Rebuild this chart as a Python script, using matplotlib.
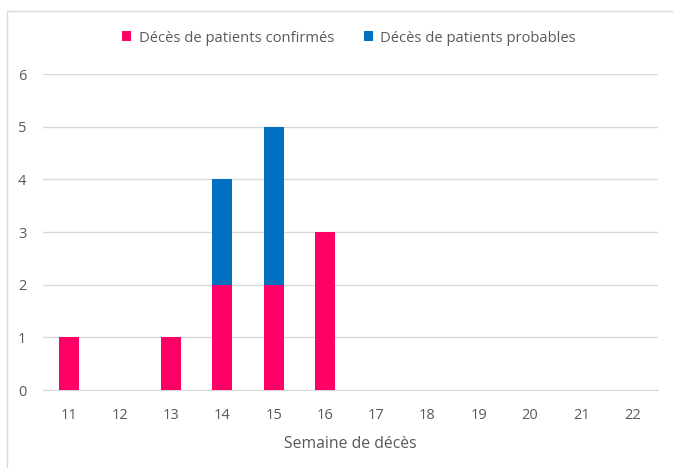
import numpy as np
import matplotlib
matplotlib.use("Agg")
from matplotlib import pyplot as plt
from matplotlib.patches import Rectangle

semaines = ["11", "12", "13", "14", "15", "16", "17", "18", "19", "20", "21", "22"]
confirmes = [1, 0, 1, 2, 2, 3, 0, 0, 0, 0, 0, 0]
probables = [0, 0, 0, 2, 3, 0, 0, 0, 0, 0, 0, 0]

plt.rcParams['font.family'] = ['Open Sans', 'DejaVu Sans']
gris = '#595959'

fig = plt.figure(figsize=(6.73, 4.68), dpi=100)
fig.patches.append(Rectangle((7/673, -0.1), 1.2, 1 - 11/468 + 0.1, transform=fig.transFigure,
                             fill=False, edgecolor='#d9d9d9', linewidth=1))
ax = fig.add_axes([43/673, 1 - 390/468, (658-43)/673, (390-74)/468])

x = np.arange(len(semaines))
ax.bar(x, confirmes, width=0.39, color='#FF0066', label='Décès de patients confirmés', zorder=3)
ax.bar(x, probables, width=0.39, bottom=confirmes, color='#0070C0', label='Décès de patients probables', zorder=3)

ax.set_xlim(-0.5, len(semaines) - 0.5)
ax.set_ylim(0, 6)
ax.set_yticks(range(7))
ax.set_xticks(x)
ax.set_xticklabels(semaines)
ax.yaxis.grid(True, color='#d9d9d9', linewidth=1)
ax.set_axisbelow(True)
for s in ['top', 'right', 'left']:
    ax.spines[s].set_visible(False)
ax.spines['bottom'].set_color('#d9d9d9')
ax.tick_params(length=0, colors=gris, labelsize=10.5)
ax.tick_params(axis='x', pad=13)
ax.tick_params(axis='y', pad=12)
ax.set_xlabel('Semaine de décès', color=gris, fontsize=11.3, labelpad=9)

fig.legend(loc='center', bbox_to_anchor=(349/673, 1 - 38/468), ncol=2, frameon=False,
           fontsize=10.6, labelcolor=gris, handlelength=0.65, handleheight=0.65,
           columnspacing=2.0, handletextpad=0.5)

fig.savefig('out.png', dpi=100)
